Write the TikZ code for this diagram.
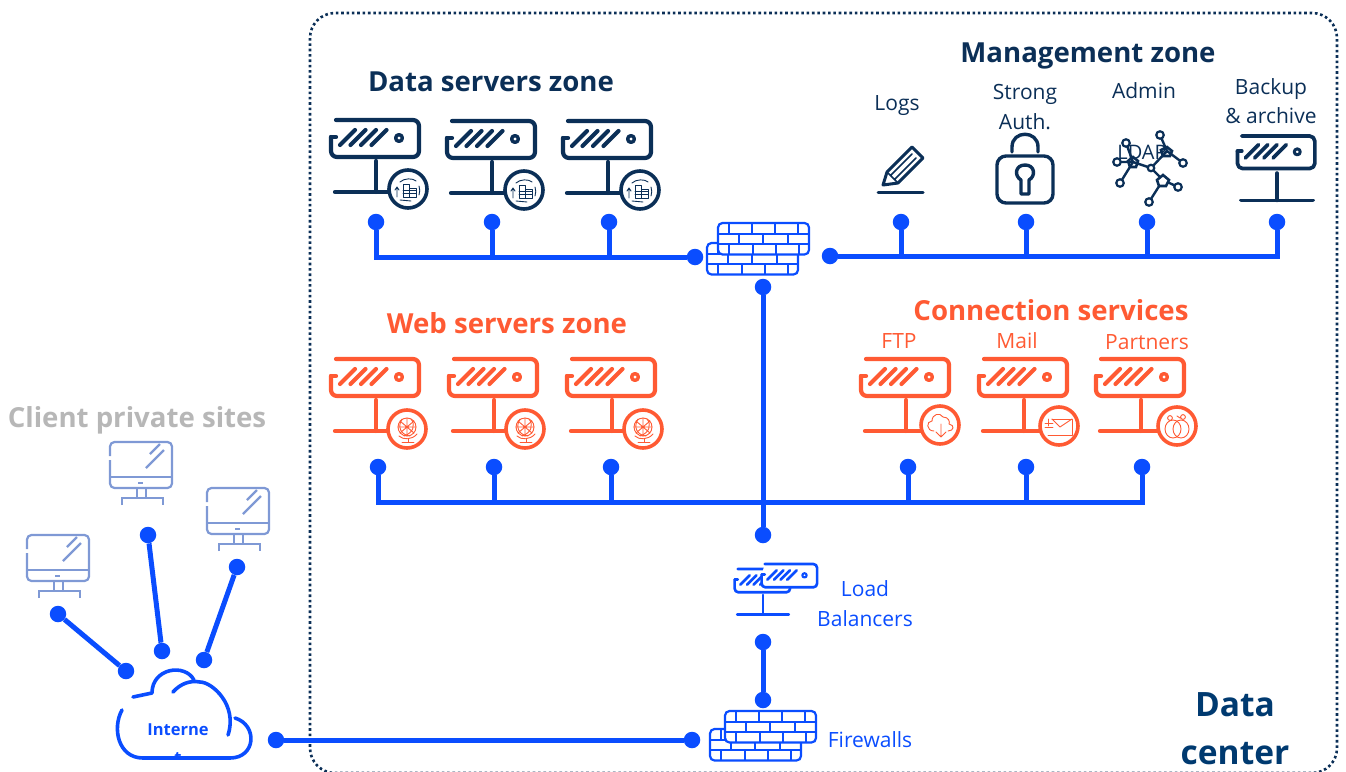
\documentclass[tikz,border=0pt]{standalone}
\usepackage{fontspec}
\setmainfont{Open Sans}
\definecolor{navy}{HTML}{0B2F57}
\definecolor{navyb}{HTML}{003A70}
\definecolor{orng}{HTML}{FF5A33}
\definecolor{blu}{HTML}{0A4DFF}
\definecolor{gry}{HTML}{B7B7B7}
\definecolor{mon}{HTML}{7F99D5}
\tikzset{
  dot/.style={circle,fill=blu,draw=none,minimum size=16.5pt,inner sep=0pt},
  link/.style={draw=blu,line width=5pt},
  title/.style={font=\bfseries\fontsize{27.6}{30}\selectfont,inner sep=0pt},
  lab/.style={font=\fontsize{21}{29.5}\selectfont,inner sep=0pt,align=center},
  net/.style={circle,fill=white,draw=navy,line width=2.2pt,inner sep=0pt},
}
% icons inside badges, centred on the origin
\newcommand{\icBuild}{%
  \draw (-5,8)--(-5,-5)--(1,-5)--(1,-1)--(8,-1)--(8,8)--cycle;
  \draw (-5,1)--(8,1) (-5,4)--(8,4) (1,-1)--(1,8);
  \draw (-11,-1)--(-11,8) (-13,1)--(-11,-2)--(-9,1);
  \draw (-8,-7) .. controls (-4,-11) and (5,-11) .. (8,-8);
  \draw (11,-3) .. controls (12,0) and (12,3) .. (11,6);
  \draw (-8,11)--(3,12);
}
\newcommand{\icGlobe}{%
  \draw (0,-2) circle (9);
  \draw (-9,-2)--(9,-2) (0,-11)--(0,7) (-7,-8)--(7,4) (-7,4)--(7,-8);
  \draw (-5,-10) .. controls (-10,-2) and (-6,6) .. (3,7);
  \draw (4,-10) .. controls (9,-4) and (6,4) .. (-3,7);
  \draw (-8,7) .. controls (-4,11) and (5,11) .. (10,5);
  \draw (1,10)--(1,13) (-5,13)--(7,13);
}
\newcommand{\icCloud}{%
  \draw (-6,6) .. controls (-14,6) and (-14,-4) .. (-8,-4) .. controls (-8,-11) and (0,-13) .. (3,-8) .. controls (9,-8) and (10,-3) .. (9,-1) .. controls (15,0) and (14,6) .. (8,6);
  \draw (1,-1)--(1,12) (-4,7)--(1,12)--(6,7);
}
\newcommand{\icMail}{%
  \draw (-7,-7)--(13,-7)--(13,9)--(-11,9);
  \draw (-7,-7)--(1,1)--(13,-7);
  \draw (-14,-3)--(-6,-3) (-14,1)--(-6,1) (-11,-7)--(-11,0);
}
\newcommand{\icRings}{%
  \draw (-4,3) ellipse (8 and 9);
  \draw (4,3) ellipse (8 and 9);
  \draw (-7,-8) circle (2.4) (6,-9) circle (2.4) (0,-10)--(3,-8);
}
% #1 x, #2 y (top of the stem axis), #3 scale, #4 colour
\newcommand{\srvbody}[4]{%
  \begin{scope}[shift={(#1,#2)},scale=#3,draw=#4,line width=#3*4.2pt,line cap=round,line join=round]
    \draw[fill=white,rounded corners=#3*6pt] (-40,0)--(43,0)--(43,37)--(-45,37)--(-45,17);
    \draw (-45,17)--(-40,17);
    \draw (-36,25)--(-21,10) (-25.5,25)--(-10.5,10) (-15,25)--(0,10) (-4.5,25)--(10.5,10);
    \draw[line width=#3*3.4pt] (23,18) circle (3.4);
  \end{scope}}
\newcommand{\srvfoot}[4]{%
  \begin{scope}[shift={(#1,#2)},scale=#3,draw=#4,line width=#3*4.2pt,line cap=round]
    \draw (0,41)--(0,72) (-41,72)--(41,72);
  \end{scope}}
% #1 x, #2 y, #3 colour, #4 #5 badge offset, #6 icon
\newcommand{\srv}[6]{%
  \srvbody{#1}{#2}{1}{#3}%
  \srvfoot{#1}{#2}{1}{#3}%
  \begin{scope}[shift={(#1+#4,#2+#5)},draw=#3]
    \draw[fill=white,line width=3.6pt] (0,0) circle (19);
    \begin{scope}[line width=.9pt,line cap=round,line join=round]#6\end{scope}
  \end{scope}}
\newcommand{\brick}[2]{%
  \begin{scope}[shift={(#1,#2)},draw=blu,line width=2.2pt]
    \draw[fill=white,rounded corners=4.5pt] (0,0) rectangle (91,31.5);
    \draw (1,11)--(90,11) (1,21)--(90,21);
    \foreach \tk in {11,34,57,80} \draw (\tk,1)--(\tk,11);
    \foreach \tk in {21,45,70} \draw (\tk,11)--(\tk,21);
    \foreach \tk in {11,35,58,81} \draw (\tk,21)--(\tk,31);
  \end{scope}}
\newcommand{\screen}[2]{%
  \begin{scope}[shift={(#1,#2)},draw=mon,line width=2.2pt]
    \draw[rounded corners=4.5pt] (0,14)--(0,0)--(62,0)--(62,46)--(0,46)--(0,18);
    \draw (0,35)--(62,35) (28,41)--(33,41);
    \draw (36,26)--(54,8) (40,12)--(50,2);
    \draw (27,47)--(27,55) (36,47)--(36,55);
    \draw (12,63)--(12,56)--(53,56)--(53,63);
  \end{scope}}
\begin{document}
\begin{tikzpicture}[x=1pt,y=-1pt]
\useasboundingbox (0,0) rectangle (1346,771);
% data-centre frame
\begin{scope}
  \clip (0,0) rectangle (1346,771);
  \draw[navy,line width=2.6pt,dash pattern=on 2.6pt off 2.75pt,rounded corners=25pt] (310,13) rectangle (1337,773);
\end{scope}
% titles
\node[title,text=navy] (tData) at (491,82) {Data servers zone};
\node[title,text=navy] (tMgmt) at (1088,55.5) {Management zone};
\node[title,text=orng] (tWeb) at (507,323.5) {Web servers zone};
\node[title,text=orng] (tConn) at (1051,310) {Connection services};
\node[title,text=gry] (tClient) at (137,420) {Client private sites};
\node[font=\bfseries\fontsize{33.5}{48}\selectfont,text=navyb,align=center,inner sep=0pt] (tDC) at (1235,728.5) {Data\\center};
% labels
\node[lab,text=navy] (lLogs) at (897,106) {Logs};
\node[lab,text=navy] (lAuth) at (1025,107) {Strong\\Auth.};
\node[lab,text=navy] (lAdmin) at (1144,91) {Admin};
\node[lab,text=navy] (lBack) at (1271,101) {Backup\\\& archive};
\node[lab,text=orng] (lFtp) at (899,341) {FTP};
\node[lab,text=orng] (lMail) at (1017,341) {Mail};
\node[lab,text=orng] (lPart) at (1147,342) {Partners};
\node[lab,text=blu] (lLB) at (865,603.5) {Load\\Balancers};
\node[lab,text=blu] (lFW) at (870,739.5) {Firewalls};
\node[lab,text=navy,font=\fontsize{20}{24}\selectfont] (lLdap) at (1142,152) {LDAP};
% servers
\srv{376}{120}{navy}{32}{69}{\icBuild}
\srv{492}{121}{navy}{32}{69}{\icBuild}
\srv{608}{121}{navy}{32}{69}{\icBuild}
\srv{376}{359}{orng}{31}{70}{\icGlobe}
\srv{494}{359}{orng}{31}{70}{\icGlobe}
\srv{612}{359}{orng}{31}{70}{\icGlobe}
\srv{906}{359}{orng}{34}{66}{\icCloud}
\srv{1024}{359}{orng}{35}{67}{\icMail}
\srv{1141}{359}{orng}{36}{67}{\icRings}
% backup server
\srvbody{1277}{136}{.88}{navy}
\srvfoot{1277}{137}{.88}{navy}
% pencil
\begin{scope}[draw=navy,line width=3pt,line join=round,line cap=round]
  \draw (878,192)--(923,192);
  \draw (883,185)--(887,172)--(912,147)--(923,158)--(898,183)--cycle;
  \draw[line width=1.6pt] (891,175)--(912,154) (895,179)--(916,158) (887,172)--(898,183);
\end{scope}
% lock
\begin{scope}[draw=navy,line width=3.4pt,line cap=round,line join=round]
  \draw[rounded corners=9pt] (997,156) rectangle (1053,203);
  \draw (1012,152)--(1012,147) .. controls (1012,130) and (1038,130) .. (1038,147)--(1038,152);
  \draw (1021,194)--(1021,180) .. controls (1014,176) and (1015,165) .. (1025,165) .. controls (1035,165) and (1036,176) .. (1029,180)--(1029,194)--cycle;
\end{scope}
% LDAP network
\coordinate (n1) at (1160,135);
\coordinate (n2) at (1167,151);
\coordinate (n3) at (1183,163);
\coordinate (n4) at (1126,143);
\coordinate (n5) at (1133,162);
\coordinate (n6) at (1117,162);
\coordinate (n7) at (1151,168);
\coordinate (n8) at (1120,183);
\coordinate (n9) at (1163,180);
\coordinate (n10) at (1178,187);
\coordinate (n11) at (1149,202);
\draw[navy,line width=2.4pt] (n1)--(n2)--(n3) (n2)--(n7) (n4)--(n5)--(n6) (n5)--(n7)--(n9)--(n10) (n5)--(n8) (n9)--(n11);
\foreach \p/\r in {n1/7.5,n3/7.5,n4/7.5,n6/7.5,n8/7.5,n10/7.5,n11/7.5,n7/6.5}
  \node[net,minimum size=\r pt] (c\p) at (\p) {};
\draw[navy,line width=2.6pt] (1167,147)--(1172,151)--(1170,156)--(1163,156)--(1161,150)--cycle;
\draw[navy,line width=2.6pt] (1133,157)--(1138,161)--(1136,167)--(1130,167)--(1128,161)--cycle;
\draw[navy,line width=2.6pt,fill=white] (1163,175)--(1169,180)--(1166,186)--(1159,186)--(1157,180)--cycle;
% load balancers
\srvfoot{763}{569}{.63}{blu}
\srvbody{763}{569}{.63}{blu}
\srvbody{790}{564}{.63}{blu}
% firewalls
\brick{707}{243}\brick{718}{223}
\brick{710}{729}\brick{725}{711}
% client sites
\screen{27}{535}\screen{110}{442}\screen{207}{488}
% cloud
\begin{scope}
  \clip (140,700) rectangle (216,757);
  \node[font=\bfseries\fontsize{16.5}{28}\selectfont,text=blu,align=center,inner sep=0pt] (lNet) at (178,744) {Interne\\t};
\end{scope}
\begin{scope}[draw=blu,line width=3.6pt,line cap=round,line join=round]
  \draw (122,710) .. controls (112,728) and (118,758) .. (143,758) -- (230,758) .. controls (256,758) and (258,725) .. (235,718);
  \draw (228,735) .. controls (238,705) and (212,682) .. (200,682) .. controls (190,680) and (180,684) .. (173,692);
  \draw (133,697) -- (152,693) .. controls (152,668) and (185,663) .. (194,680);
\end{scope}
% connection points
\foreach \n/\x/\y in {a1/376/222,a2/492/222,a3/609/222,
  m1/901/222,m2/1026/222,m3/1147/222,m4/1277/222,
  w1/378/467,w2/494/467,w3/611/467,w4/908/467,w5/1026/467,w6/1142/467,
  fl/695/257,fr/830/256,fb/763/287,lt/763/535,lb/763/642,ft/763/700,
  fw/692/740,ni/276/740,
  s1/58/614,s2/148/535,s3/237/567,k1/126/671,k2/162/651,k3/204/660}
  \node[dot] (\n) at (\x,\y) {};
\coordinate (busW) at (763,502);
% connectors
\draw[link] (a1) -- (a1 |- fl) -- (fl);
\draw[link] (a2) -- (a2 |- fl);
\draw[link] (a3) -- (a3 |- fl);
\draw[link] (fr) -- (m4 |- fr) -- (m4);
\draw[link] (m1) -- (m1 |- fr);
\draw[link] (m2) -- (m2 |- fr);
\draw[link] (m3) -- (m3 |- fr);
\draw[link] (fb) -- (lt);
\draw[link] (w1) -- (w1 |- busW) -- (w6 |- busW) -- (w6);
\foreach \w in {w2,w3,w4,w5} \draw[link] (\w) -- (\w |- busW);
\draw[link] (lb) -- (ft);
\draw[link] (ni) -- (fw);
\draw[link] (s1) -- (k1);
\draw[link] (s2) -- (k2);
\draw[link] (s3) -- (k3);
\end{tikzpicture}
\end{document}
